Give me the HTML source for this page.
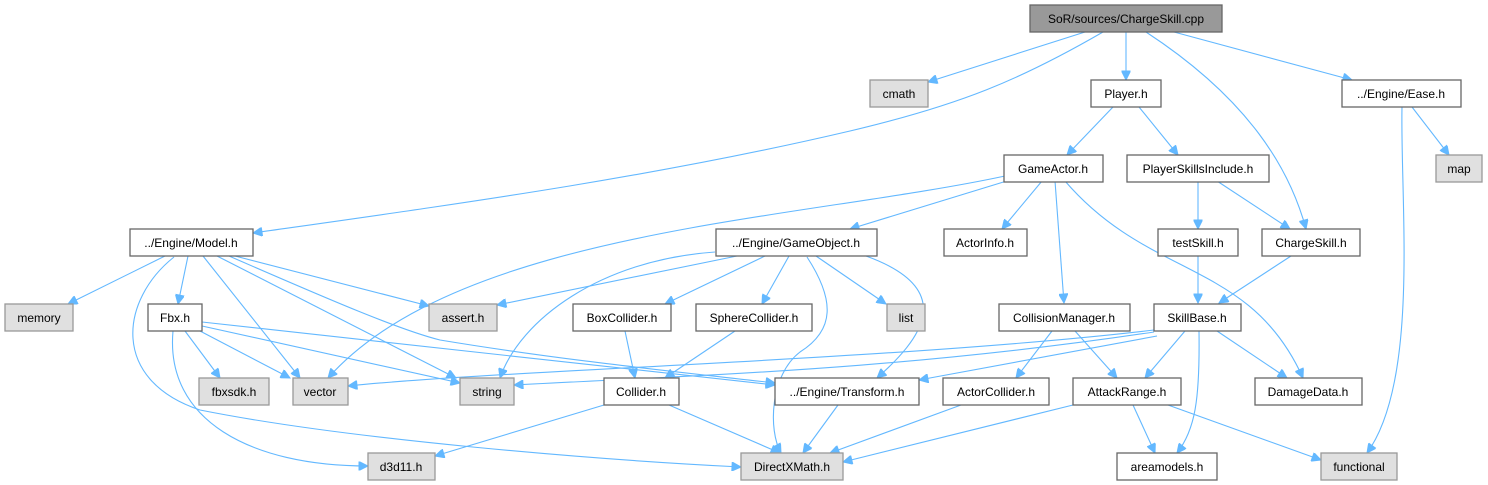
<!DOCTYPE html>
<html><head><meta charset="utf-8"><style>
html,body{margin:0;padding:0;background:#fff;}
svg{display:block;}
text{font-family:"Liberation Sans",Arial,sans-serif;font-size:12px;fill:#000;text-anchor:middle;}
.n{fill:#fff;stroke:#666;stroke-width:1.3;}
.g{fill:#e0e0e0;stroke:#999;stroke-width:1.3;}
.r{fill:#999;stroke:#666;stroke-width:1.3;}
path{fill:none;stroke:#63b8ff;stroke-width:1.1;marker-end:url(#a);}
</style></head><body>
<svg width="1488" height="485" viewBox="0 0 1488 485" xmlns="http://www.w3.org/2000/svg">
<defs><marker id="a" viewBox="0 0 10 10" refX="10" refY="5" markerWidth="11" markerHeight="9" markerUnits="userSpaceOnUse" orient="auto"><path d="M0,0 L10,5 L0,10 z" style="fill:#63b8ff;stroke:#63b8ff;marker-end:none"/></marker></defs>
<!-- edges -->
<path d="M1085,32 L928,82"/>
<path d="M1103,32 C1020,80 960,105 850,131 C650,178 450,205 253,233"/>
<path d="M1126,32 L1126,80"/>
<path d="M1146,32 C1250,100 1290,170 1306,229"/>
<path d="M1174,32 L1352,80"/>
<path d="M1113,107 L1067,155"/>
<path d="M1139,107 L1178,155"/>
<path d="M1412,107 L1449,155"/>
<path d="M1402,107 C1400,200 1420,380 1367,453"/>
<path d="M1010,180 L850,229"/>
<path d="M1005,176 C800,220 460,230 328,378"/>
<path d="M1042,181 L1002,229"/>
<path d="M1055,181 L1064,303"/>
<path d="M1065,181 C1150,280 1250,260 1303,378"/>
<path d="M1198,181 L1198,229"/>
<path d="M1217,181 L1290,229"/>
<path d="M1198,256 L1198,303"/>
<path d="M1291,256 L1219,303"/>
<path d="M165,256 L68,304"/>
<path d="M188,256 L178,304"/>
<path d="M203,256 L300,378"/>
<path d="M235,256 L429,306"/>
<path d="M217,256 L456,378"/>
<path d="M229,256 C330,300 400,330 440,340 C560,360 680,372 775,383"/>
<path d="M174,257 C120,300 110,380 200,410 C350,440 600,460 741,467"/>
<path d="M185,331 L220,378"/>
<path d="M200,331 L290,378"/>
<path d="M202,326 L460,383"/>
<path d="M202,322 L775,385"/>
<path d="M173,331 C165,420 250,466 368,466"/>
<path d="M737,256 L497,305"/>
<path d="M715,252 C600,260 520,320 500,378"/>
<path d="M765,256 L665,304"/>
<path d="M789,256 L762,304"/>
<path d="M807,257 C835,300 835,330 800,352 C770,375 768,430 781,453"/>
<path d="M816,256 L886,304"/>
<path d="M866,256 C960,290 920,340 877,378"/>
<path d="M625,331 L635,378"/>
<path d="M735,331 L665,378"/>
<path d="M604,405 L435,456"/>
<path d="M669,405 L780,453"/>
<path d="M838,405 L803,453"/>
<path d="M961,405 L830,453"/>
<path d="M1052,331 L1016,378"/>
<path d="M1075,331 L1117,378"/>
<path d="M1073,405 L843,462"/>
<path d="M1133,405 L1155,453"/>
<path d="M1168,405 L1321,460"/>
<path d="M1154,330 C900,360 500,370 348,386"/>
<path d="M1154,332 C900,370 700,375 514,385"/>
<path d="M1157,336 L919,380"/>
<path d="M1185,331 L1145,378"/>
<path d="M1217,331 L1287,378"/>
<path d="M1199,331 C1200,400 1195,430 1177,453"/>
<!-- nodes -->
<rect class="r" x="1030" y="5" width="192" height="27"/><text x="1126" y="23">SoR/sources/ChargeSkill.cpp</text>
<rect class="g" x="870" y="80" width="58" height="27"/><text x="899" y="98">cmath</text>
<rect class="n" x="1091" y="80" width="70" height="27"/><text x="1126" y="98">Player.h</text>
<rect class="n" x="1342" y="80" width="119" height="27"/><text x="1401" y="98">../Engine/Ease.h</text>
<rect class="n" x="1004" y="155" width="99" height="27"/><text x="1053" y="173">GameActor.h</text>
<rect class="n" x="1127" y="155" width="142" height="27"/><text x="1198" y="173">PlayerSkillsInclude.h</text>
<rect class="g" x="1436" y="155" width="46" height="27"/><text x="1459" y="173">map</text>
<rect class="n" x="130" y="229" width="123" height="27"/><text x="191" y="247">../Engine/Model.h</text>
<rect class="n" x="716" y="229" width="161" height="27"/><text x="796" y="247">../Engine/GameObject.h</text>
<rect class="n" x="944" y="229" width="83" height="27"/><text x="985" y="247">ActorInfo.h</text>
<rect class="n" x="1158" y="229" width="80" height="27"/><text x="1198" y="247">testSkill.h</text>
<rect class="n" x="1262" y="229" width="98" height="27"/><text x="1311" y="247">ChargeSkill.h</text>
<rect class="g" x="5" y="304" width="68" height="27"/><text x="39" y="322">memory</text>
<rect class="n" x="148" y="304" width="54" height="27"/><text x="175" y="322">Fbx.h</text>
<rect class="g" x="429" y="304" width="68" height="27"/><text x="463" y="322">assert.h</text>
<rect class="n" x="573" y="304" width="98" height="27"/><text x="622" y="322">BoxCollider.h</text>
<rect class="n" x="696" y="304" width="116" height="27"/><text x="754" y="322">SphereCollider.h</text>
<rect class="g" x="887" y="304" width="38" height="27"/><text x="906" y="322">list</text>
<rect class="n" x="999" y="304" width="131" height="27"/><text x="1064" y="322">CollisionManager.h</text>
<rect class="n" x="1154" y="304" width="87" height="27"/><text x="1197" y="322">SkillBase.h</text>
<rect class="g" x="199" y="378" width="70" height="27"/><text x="234" y="396">fbxsdk.h</text>
<rect class="g" x="293" y="378" width="55" height="27"/><text x="320" y="396">vector</text>
<rect class="g" x="460" y="378" width="54" height="27"/><text x="487" y="396">string</text>
<rect class="n" x="604" y="378" width="75" height="27"/><text x="641" y="396">Collider.h</text>
<rect class="n" x="775" y="378" width="144" height="27"/><text x="847" y="396">../Engine/Transform.h</text>
<rect class="n" x="943" y="378" width="106" height="27"/><text x="996" y="396">ActorCollider.h</text>
<rect class="n" x="1073" y="378" width="108" height="27"/><text x="1127" y="396">AttackRange.h</text>
<rect class="n" x="1255" y="378" width="107" height="27"/><text x="1308" y="396">DamageData.h</text>
<rect class="g" x="368" y="453" width="67" height="27"/><text x="401" y="471">d3d11.h</text>
<rect class="g" x="741" y="453" width="102" height="27"/><text x="792" y="471">DirectXMath.h</text>
<rect class="n" x="1117" y="453" width="100" height="27"/><text x="1167" y="471">areamodels.h</text>
<rect class="g" x="1321" y="453" width="76" height="27"/><text x="1359" y="471">functional</text>
</svg>
</body></html>
